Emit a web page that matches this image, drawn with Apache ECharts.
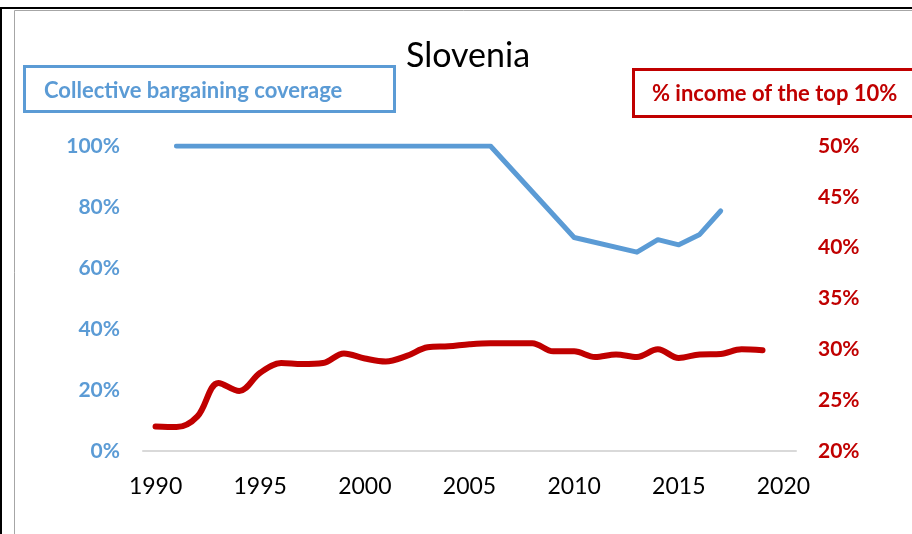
<!DOCTYPE html>
<html>
<head>
<meta charset="utf-8">
<script src="https://cdn.jsdelivr.net/npm/echarts@6/dist/echarts.min.js"></script>
<style>
  html, body { margin: 0; padding: 0; background: #fff; }
  #main { width: 912px; height: 534px; }
</style>
</head>
<body>
<div id="main"></div>
<script>
// x axis tick labels
var yearTicks = [1990, 1995, 2000, 2005, 2010, 2015, 2020];

// collective bargaining coverage (%)
var coverageYears = [1991, 1992, 1993, 1994, 1995, 1996, 1997, 1998, 1999, 2000, 2001, 2002, 2003, 2004, 2005, 2006, 2010, 2013, 2014, 2015, 2016, 2017];
var coverageValues = [100, 100, 100, 100, 100, 100, 100, 100, 100, 100, 100, 100, 100, 100, 100, 100, 70, 65.2, 69.3, 67.6, 71, 78.7];

// % income of the top 10%
var incomeYears = [1990, 1991, 1992, 1993, 1994, 1995, 1996, 1997, 1998, 1999, 2000, 2001, 2002, 2003, 2004, 2005, 2006, 2007, 2008, 2009, 2010, 2011, 2012, 2013, 2014, 2015, 2016, 2017, 2018, 2019];
var incomeValues = [22.4, 22.35, 23.4, 26.7, 25.9, 27.7, 28.65, 28.55, 28.65, 29.6, 29.1, 28.8, 29.35, 30.2, 30.3, 30.5, 30.6, 30.6, 30.6, 29.8, 29.8, 29.25, 29.5, 29.25, 30.0, 29.15, 29.5, 29.55, 30.0, 29.9];

var blue = '#5B9BD5';
var red = '#C00000';

function zip(xs, ys) {
  var out = [];
  for (var i = 0; i < xs.length; i++) out.push([xs[i], ys[i]]);
  return out;
}

var myChart = echarts.init(document.getElementById('main'));
var option = {
  animation: false,
  backgroundColor: '#fff',
  title: {
    text: 'Slovenia',
    left: 401,
    top: 34,
    textStyle: { fontFamily: 'Lato', fontSize: 34, fontWeight: 'normal', color: '#000' }
  },
  grid: { left: 143, right: 116, top: 146, bottom: 83 },
  xAxis: {
    type: 'value',
    min: 1989.4,
    max: 2020.6,
    axisLine: { show: true, lineStyle: { color: '#D9D9D9', width: 2 } },
    axisTick: { show: false },
    splitLine: { show: false },
    axisLabel: {
      customValues: yearTicks,
      formatter: function (v) { return String(v); },
      margin: 24,
      fontFamily: 'Lato',
      fontSize: 23,
      color: '#000'
    }
  },
  yAxis: [{
    type: 'value',
    min: 0,
    max: 100,
    interval: 20,
    position: 'left',
    axisLine: { show: false },
    axisTick: { show: false },
    splitLine: { show: false },
    axisLabel: {
      margin: 23,
      formatter: '{value}%',
      fontFamily: 'Lato',
      fontWeight: 'bold',
      fontSize: 21,
      color: blue
    }
  }, {
    type: 'value',
    min: 20,
    max: 50,
    interval: 5,
    position: 'right',
    axisLine: { show: false },
    axisTick: { show: false },
    splitLine: { show: false },
    axisLabel: {
      margin: 22,
      formatter: '{value}%',
      fontFamily: 'Lato',
      fontWeight: 'bold',
      fontSize: 21,
      color: red
    }
  }],
  graphic: [
    // outer frame
    { type: 'line', shape: { x1: 0, y1: 8, x2: 912, y2: 8 }, style: { stroke: '#000', lineWidth: 2 } },
    { type: 'line', shape: { x1: 1, y1: 8, x2: 1, y2: 534 }, style: { stroke: '#000', lineWidth: 2 } },
    { type: 'line', shape: { x1: 14.5, y1: 10.5, x2: 912, y2: 10.5 }, style: { stroke: '#A6A6A6', lineWidth: 1 } },
    { type: 'line', shape: { x1: 14.5, y1: 10.5, x2: 14.5, y2: 534 }, style: { stroke: '#A6A6A6', lineWidth: 1 } },
    // legend boxes
    { type: 'rect', shape: { x: 24.5, y: 66.5, width: 370, height: 45 }, style: { fill: '#fff', stroke: blue, lineWidth: 3 } },
    { type: 'text', left: 44, top: 80, style: { text: 'Collective bargaining coverage', fill: blue, font: 'bold 22px Lato' } },
    { type: 'rect', shape: { x: 633.5, y: 69.5, width: 300, height: 47 }, style: { fill: '#fff', stroke: red, lineWidth: 3 } },
    { type: 'text', left: 652, top: 83, style: { text: '% income of the top 10%', fill: red, font: 'bold 22px Lato' } }
  ],
  series: [{
    name: 'Collective bargaining coverage',
    type: 'line',
    yAxisIndex: 0,
    showSymbol: false,
    symbol: 'none',
    lineStyle: { color: blue, width: 5, cap: 'round', join: 'round' },
    data: zip(coverageYears, coverageValues)
  }, {
    name: '% income of the top 10%',
    type: 'line',
    yAxisIndex: 1,
    showSymbol: false,
    symbol: 'none',
    smooth: 0.35,
    lineStyle: { color: red, width: 6, cap: 'round', join: 'round' },
    data: zip(incomeYears, incomeValues)
  }]
};
myChart.setOption(option);
</script>
</body>
</html>
